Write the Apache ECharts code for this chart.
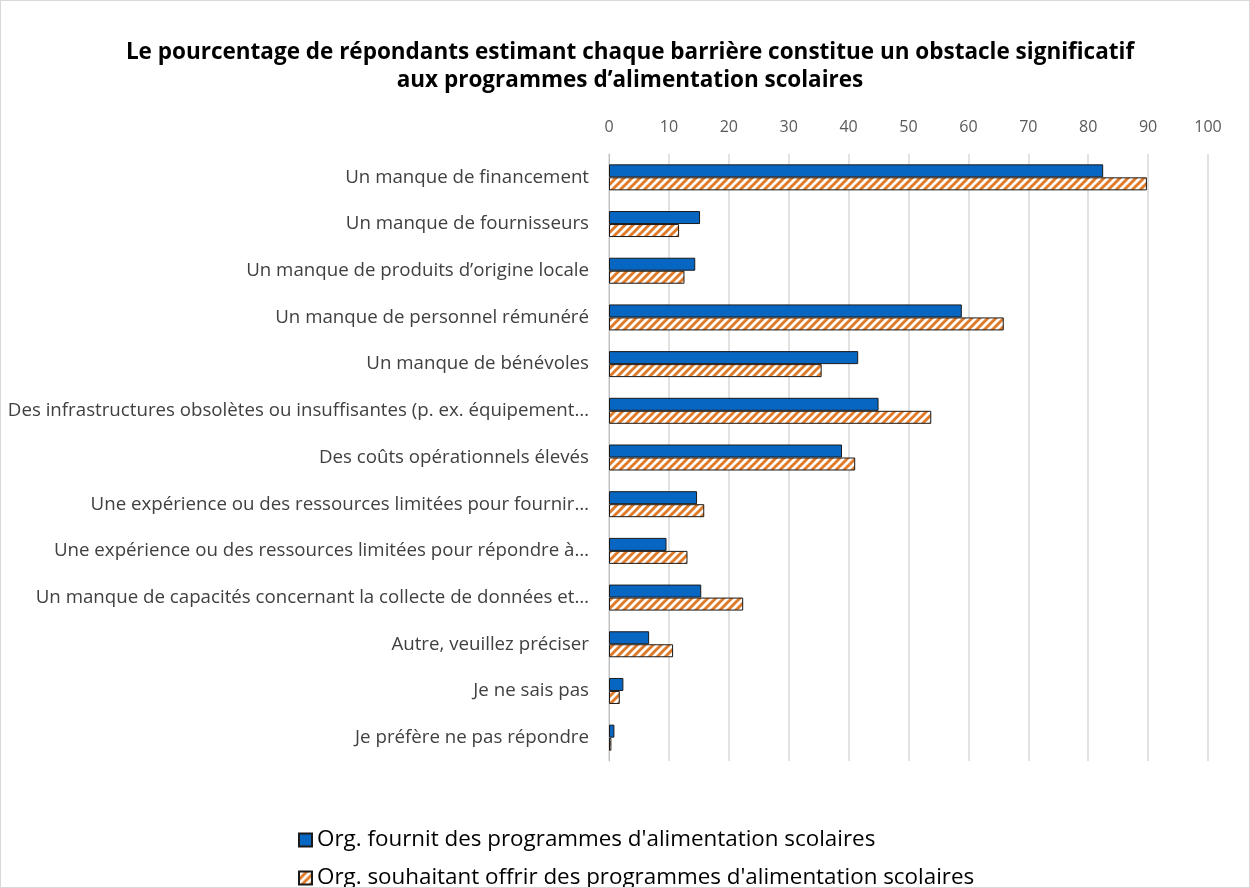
<!DOCTYPE html>
<html><head><meta charset="utf-8">
<script src="https://cdn.jsdelivr.net/npm/echarts@6/dist/echarts.min.js"></script>
<style>html,body{margin:0;padding:0;background:#fff}#c{width:1248px;height:886px;border:1px solid #d9d9d9}</style>
</head><body><div id="c"></div>
<script>
var categories = [
 "Un manque de financement",
 "Un manque de fournisseurs",
 "Un manque de produits d’origine locale",
 "Un manque de personnel rémunéré",
 "Un manque de bénévoles",
 "Des infrastructures obsolètes ou insuffisantes (p. ex. équipement…",
 "Des coûts opérationnels élevés",
 "Une expérience ou des ressources limitées pour fournir…",
 "Une expérience ou des ressources limitées pour répondre à…",
 "Un manque de capacités concernant la collecte de données et…",
 "Autre, veuillez préciser",
 "Je ne sais pas",
 "Je préfère ne pas répondre"
];
var seriesNames = ["Org. fournit des programmes d'alimentation scolaires", "Org. souhaitant offrir des programmes d'alimentation scolaires"];
var providing = [82.5, 15.2, 14.4, 58.9, 41.6, 45.0, 38.9, 14.7, 9.6, 15.4, 6.7, 2.4, 0.9];
var wishing = [89.8, 11.7, 12.6, 65.9, 35.5, 53.8, 41.1, 15.9, 13.1, 22.4, 10.7, 1.8, 0.4];
var titleLines = ["Le pourcentage de répondants estimant chaque barrière constitue un obstacle significatif", "aux programmes d’alimentation scolaires"];

function hatch(){
  var c = document.createElement('canvas'); c.width = 8; c.height = 8;
  var g = c.getContext('2d');
  g.fillStyle = '#fff'; g.fillRect(0,0,8,8);
  g.strokeStyle = '#e07b2a'; g.lineWidth = 3; g.lineCap='square';
  g.beginPath();
  g.moveTo(-2,10); g.lineTo(10,-2);
  g.moveTo(-6,6); g.lineTo(6,-6);
  g.moveTo(2,14); g.lineTo(14,2);
  g.stroke();
  return {image: c, repeat: 'repeat'};
}
var F = '"Open Sans", sans-serif';
var legendText = {fontFamily:F, fontSize:22.4, color:'#000', lineHeight:26};
var chart = echarts.init(document.getElementById('c'));
chart.setOption({
  animation:false,
  title:{text: titleLines.join('\n'), left: 624, textAlign:'center', top: 33,
    textStyle:{fontFamily:F, fontSize:22.5, fontWeight:'bold', color:'#000', lineHeight:28}},
  grid:{left:608, right:41, top:153, bottom:126, containLabel:false},
  xAxis:{type:'value', position:'top', min:0, max:100, interval:10,
    axisLabel:{fontFamily:F, fontSize:16, color:'#595959', margin:19},
    axisLine:{show:false}, axisTick:{show:false},
    splitLine:{lineStyle:{color:'#d9d9d9', width:1.5}}},
  yAxis:{type:'category', data:categories, inverse:true,
    axisLabel:{fontFamily:F, fontSize:18.7, color:'#404040', margin:20},
    axisLine:{show:true, lineStyle:{color:'#bfbfbf'}}, axisTick:{show:false}},
  legend:[
    {left:292, top:821, icon:'rect', itemWidth:13, itemHeight:13, itemGap:4, textStyle:legendText, data:[seriesNames[0]]},
    {left:292, top:859, icon:'rect', itemWidth:13, itemHeight:13, itemGap:4, textStyle:legendText, data:[seriesNames[1]]}
  ],
  series:[
    {name:seriesNames[0], type:'bar', data:providing, barWidth:13, barGap:'0%',
     itemStyle:{color:'#0766c2', borderColor:'#1a1a1a', borderWidth:1}},
    {name:seriesNames[1], type:'bar', data:wishing, barWidth:13, barGap:'0%',
     itemStyle:{color:hatch(), borderColor:'#1a1a1a', borderWidth:1}}
  ]
});
</script></body></html>
